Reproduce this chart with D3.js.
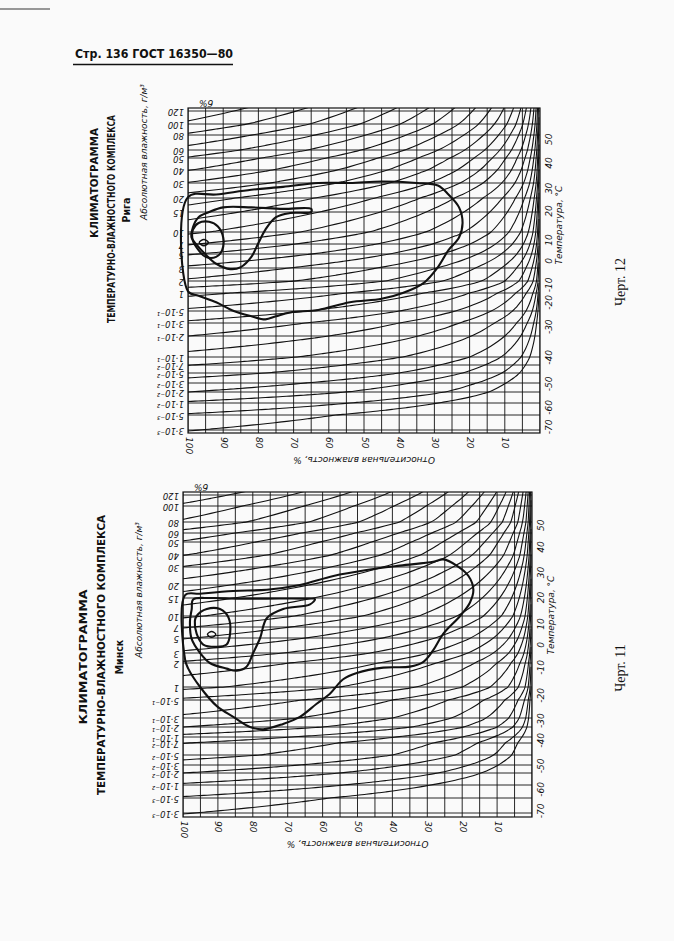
<!DOCTYPE html>
<html><head><meta charset="utf-8">
<script src="https://cdn.jsdelivr.net/npm/d3@7"></script>
<style>body{margin:0;background:#fafafa}svg{display:block}</style>
</head><body>
<script>
// ---------- data ----------
const absTicks = [120,100,80,60,50,40,30,20,15,10,7,5,3,2,1,0.5,0.3,0.2,0.1,0.07,0.05,0.03,0.02,0.01,0.005,0.003];
const absLabels = ["120","100","80","60","50","40","30","20","15","10","7","5","3","2","1","5·10⁻¹","3·10⁻¹","2·10⁻¹","1·10⁻¹","7·10⁻²","5·10⁻²","3·10⁻²","2·10⁻²","1·10⁻²","5·10⁻³","3·10⁻³"];
const rhTicks = [100,90,80,70,60,50,40,30,20,10];
const rhGrid = d3.range(100,-1,-5);
const isoTemps = [-70,-65,-60,-55,-50,-45,-40,-35,-30,-25,-20,-15,-10,-5,0,5,10,15,20,25,30,35,40,45,50,55];
const isoSat   = [0.0029,0.0054,0.011,0.020,0.039,0.069,0.12,0.20,0.33,0.55,0.88,1.39,2.14,3.24,4.85,6.8,9.4,12.8,17.3,23.0,30.4,39.6,51.1,65.4,83.0,104.4];
const tempLabels = [-70,-60,-50,-40,-30,-20,-10,0,10,20,30,40,50];
const rigaContours = [
 [[100,20.5],[92,22],[82,25],[73,27],[63,30],[54,30],[45,31],[35,30],[29,28],[26,22],[23,16.5],[22,12],[23,8.5],[26,5.7],[29,3.1],[33,1.8],[39,1.0],[45,0.8],[54,0.7],[63,0.52],[71,0.47],[75,0.4],[78,0.35],[82,0.4],[87,0.5],[92,0.7],[97,0.9],[100,1.1]],
 [[98.6,11],[97,13.5],[94,15],[90,16.5],[82,16.5],[73,16],[65,16],[65,15],[71,14.7],[75,13.5],[78,10.5],[80,7.2],[82,4.5],[85,3.1],[88,2.9],[92,3.5],[95,4.9],[97.5,6.8],[99,8.5]],
 [[98.6,10.5],[97,12],[94,12.3],[91.5,11.2],[90,8.5],[90.3,5.7],[92,4.5],[95,4.5],[97,5.7],[98.6,7.7]],
 [[96.8,7.3],[95.5,8.0],[94.2,7.3],[95.5,6.6]]
];
const minskContours = [
 [[99.4,16],[95.1,16.5],[85.6,17.5],[76,18],[66.5,20],[56.9,24.5],[47.4,28],[37.8,31],[28.3,34],[25.4,36],[21.6,31],[18.2,24.5],[16.8,18],[17.8,13.5],[20.6,10],[25.4,5.7],[28.3,3.3],[31.1,2.1],[35,1.8],[42.6,1.75],[50.2,1.5],[54.1,1.25],[57.9,0.7],[61.7,0.45],[66.5,0.31],[71.3,0.23],[77,0.17],[80.8,0.2],[85.6,0.31],[90.3,0.42],[95.1,1.0],[98.5,1.7],[99.4,2.3]],
 [[97.1,14.5],[92.3,15],[84.6,14.8],[76,14.8],[65.5,14.8],[62.2,14.6],[63.6,13],[71.3,11.7],[76,9.3],[77.9,5],[79.9,3],[81.8,1.8],[84.6,1.6],[87.5,1.7],[92.3,2],[95.1,3],[97.5,4.8],[98,8.5],[97.5,11.7]],
 [[96.1,10],[93.2,11.7],[89.4,11.7],[87,9.6],[86.5,5.7],[87.5,4],[90.3,3.7],[94.2,4],[96.1,5.7],[96.6,8.5]],
 [[93,5.6],[91.8,6.1],[90.6,5.6],[91.8,5.1]]
];

// ---------- layout ----------
const W=674,H=941;
const svg=d3.select("body").append("svg").attr("width",W).attr("height",H);
svg.append("rect").attr("width",W).attr("height",H).attr("fill","#fafafa");
const ink="#111";

svg.append("line").attr("x1",0).attr("x2",50).attr("y1",9).attr("y2",9).attr("stroke","#777").attr("stroke-width",1.5);
svg.append("text").attr("x",75).attr("y",58).attr("font-family","'DejaVu Sans Condensed','DejaVu Sans'").attr("font-size",12.5).attr("fill",ink)
  .attr("font-weight","bold").attr("textLength",158).attr("lengthAdjust","spacingAndGlyphs").text('Стр. 136 ГОСТ 16350—80');
svg.append("line").attr("x1",73).attr("x2",233).attr("y1",64.5).attr("y2",64.5).attr("stroke",ink).attr("stroke-width",1.6);

function chart(cfg){
  const g=svg.append("g");
  const x=d3.scaleLinear().domain([100,0]).range([cfg.left,cfg.right]);
  const y=d3.scaleLinear().domain(absTicks.map(v=>Math.log10(v))).range(cfg.tickY);
  const Y=v=>y(Math.log10(v));
  const id="clip"+cfg.name;
  svg.append("clipPath").attr("id",id).append("rect").attr("x",cfg.left).attr("y",cfg.top)
    .attr("width",cfg.right-cfg.left).attr("height",cfg.bottom-cfg.top);
  const p=g.append("g").attr("clip-path",`url(#${id})`);
  p.selectAll(".v").data(rhGrid).join("line").attr("x1",d=>x(d)).attr("x2",d=>x(d))
    .attr("y1",cfg.top).attr("y2",cfg.bottom).attr("stroke",ink).attr("stroke-width",0.9);
  p.selectAll(".h").data(absTicks).join("line").attr("x1",cfg.left).attr("x2",cfg.right)
    .attr("y1",d=>Y(d)).attr("y2",d=>Y(d)).attr("stroke",ink).attr("stroke-width",0.9);
  const rhs=d3.range(100,10,-2).concat(d3.range(10,2,-0.5)).concat(d3.range(2,0.2,-0.1));
  const line=d3.line().x(d=>x(d[0])).y(d=>Y(d[1])).curve(d3.curveMonotoneX);
  p.selectAll(".iso").data(isoSat).join("path").attr("fill","none").attr("stroke",ink).attr("stroke-width",1.1)
    .attr("d",s=>line(rhs.map(r=>[r,s*100/r])));
  const cl=d3.line().x(d=>x(d[0])).y(d=>Y(d[1])).curve(d3.curveCatmullRomClosed.alpha(0.5));
  g.selectAll(".ct").data(cfg.contours).join("path").attr("fill","none").attr("stroke",ink)
    .attr("stroke-width",(d,i)=>i==3?1.4:2.1).attr("d",cl);
  g.append("rect").attr("x",cfg.left).attr("y",cfg.top).attr("width",cfg.right-cfg.left).attr("height",cfg.bottom-cfg.top)
    .attr("fill","none").attr("stroke",ink).attr("stroke-width",1.2);
  const f="'DejaVu Sans'";
  g.selectAll(".al").data(absTicks).join("text").attr("font-family",f).attr("font-style","italic").attr("font-size",8.5)
    .attr("fill",ink).attr("text-anchor","start").attr("dominant-baseline","middle")
    .attr("transform",d=>`translate(${cfg.left-4},${Y(d)}) rotate(180)`).text((d,i)=>absLabels[i]);
  g.selectAll(".bl").data(rhTicks).join("text").attr("font-family",f).attr("font-style","italic").attr("font-size",9)
    .attr("fill",ink).attr("text-anchor","start").attr("dominant-baseline","middle")
    .attr("transform",d=>`translate(${x(d)},${cfg.bottom+4}) rotate(90)`).text(d=>d);
  g.append("text").attr("font-family",f).attr("font-style","italic").attr("font-size",9).attr("fill",ink)
    .attr("text-anchor","middle").attr("transform",`translate(${(cfg.left+cfg.right)/2},${cfg.bottom+24}) rotate(180)`)
    .text("Относительная влажность, %");
  g.selectAll(".tl").data(tempLabels).join("text").attr("font-family",f).attr("font-style","italic").attr("font-size",9)
    .attr("fill",ink).attr("text-anchor","middle").attr("dominant-baseline","middle")
    .attr("transform",t=>`translate(${cfg.right+9},${Math.min(cfg.bottom-6,Y(isoSat[isoTemps.indexOf(t)])+6)}) rotate(-90)`).text(t=>t);
  g.append("text").attr("font-family",f).attr("font-style","italic").attr("font-size",9).attr("fill",ink)
    .attr("text-anchor","middle").attr("transform",`translate(${cfg.right+22},${cfg.tempTitleY}) rotate(-90)`)
    .text("Температура, °С");
  g.append("text").attr("font-family",f).attr("font-style","italic").attr("font-size",9).attr("fill",ink)
    .attr("text-anchor","middle").attr("transform",`translate(${cfg.left+18},${cfg.top-8}) rotate(180)`).text("б%");
  g.append("text").attr("font-family",f).attr("font-style","italic").attr("font-size",9).attr("fill",ink)
    .attr("text-anchor","middle").attr("transform",`translate(${cfg.left-41},${cfg.absTitleY}) rotate(-90)`)
    .text("Абсолютная влажность, г/м³");
  const tt=[["КЛИМАТОГРАММА",cfg.t1x,cfg.t1y,10.5,cfg.t1len],["ТЕМПЕРАТУРНО-ВЛАЖНОСТНОГО  КОМПЛЕКСА",cfg.t2x,cfg.t2y,10.5,cfg.t2len],[cfg.name,cfg.t3x,cfg.t3y,10.5,0]];
  tt.forEach(t=>{const e=g.append("text").attr("font-family","'DejaVu Sans Condensed','DejaVu Sans'").attr("font-weight","bold").attr("font-size",t[3]).attr("fill",ink)
    .attr("text-anchor","middle").attr("transform",`translate(${t[1]},${t[2]}) rotate(-90)`).text(t[0]);
    if(t[4]) e.attr("textLength",t[4]).attr("lengthAdjust","spacingAndGlyphs");});
  g.append("text").attr("font-family","'Liberation Serif'").attr("font-size",14).attr("fill",ink)
    .attr("text-anchor","middle").attr("transform",`translate(${cfg.chertX},${cfg.chertY}) rotate(-90)`).text(cfg.chert);
}

chart({name:"Рига",left:188,right:540,top:108,bottom:433,
  tickY:[111,124,135,150,158,170,183,198,212,232,244,254,268,281,293,311,323,336,357,365,373,383,392,403,415,430],
  contours:rigaContours,tempTitleY:225,absTitleY:152,
  t1x:98,t1y:183,t1len:110,t2x:115,t2y:219,t2len:208,t3x:130,t3y:210,chert:"Черт. 12",chertX:625,chertY:282});
chart({name:"Минск",left:183,right:532,top:492,bottom:817,
  tickY:[495,506,522,533,542,555,567,585,598,616,627,638,653,663,687,700,718,727,737,743,755,765,773,785,798,813],
  contours:minskContours,tempTitleY:615,absTitleY:590,
  t1x:87,t1y:657,t1len:135,t2x:105,t2y:655,t2len:280,t3x:123,t3y:657,chert:"Черт. 11",chertX:625,chertY:668});
</script>
</body></html>
